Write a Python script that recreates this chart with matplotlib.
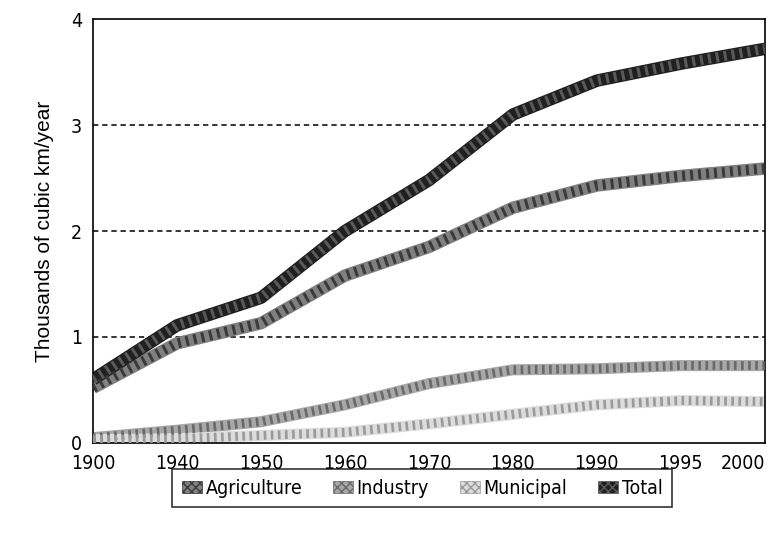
import matplotlib
matplotlib.use("Agg")
import matplotlib.pyplot as plt
from matplotlib.patches import Patch

years = ["1900", "1940", "1950", "1960", "1970", "1980", "1990", "1995", "2000"]
agriculture = [0.52, 0.94, 1.13, 1.58, 1.85, 2.22, 2.43, 2.52, 2.59]
industry = [0.05, 0.12, 0.20, 0.36, 0.56, 0.69, 0.70, 0.73, 0.73]
municipal = [0.03, 0.04, 0.07, 0.10, 0.18, 0.27, 0.36, 0.40, 0.39]
total = [0.60, 1.11, 1.37, 2.00, 2.48, 3.10, 3.42, 3.58, 3.72]

series = [
    ("Agriculture", agriculture, "#808080", "#3a3a3a", 9),
    ("Industry", industry, "#a8a8a8", "#6a6a6a", 8),
    ("Municipal", municipal, "#dcdcdc", "#9a9a9a", 8),
    ("Total", total, "#202020", "#5a5a5a", 9),
]

plt.rcParams['font.family'] = ['DejaVu Sans']
plt.rcParams['font.stretch'] = 'condensed'

fig = plt.figure(figsize=(7.82, 5.33), dpi=100)
ax = fig.add_axes([0.119, 0.169, 0.859, 0.795])

x = list(range(len(years)))
for y in [1, 2, 3]:
    ax.axhline(y, color="black", lw=1.1, ls=(0, (3.5, 2.5)), zorder=1)

handles = []
for name, vals, col, dot, lw in series:
    ax.plot(x, vals, color=col, lw=lw, solid_joinstyle="round", solid_capstyle="butt", zorder=2)
    # stippled texture on top
    ax.plot(x, vals, color=dot, lw=lw * 0.8, ls=(0, (0.3, 0.5)), zorder=3)
    handles.append(Patch(facecolor=col, edgecolor=dot, hatch="xxxx", lw=0.5, label=name))

ax.set_xlim(0, len(years) - 1)
ax.set_ylim(0, 4)
ax.set_xticks(x)
ax.set_xticklabels(years)
ax.set_yticks([0, 1, 2, 3, 4])
ax.tick_params(axis="both", length=0, labelsize=14, pad=8)
ax.get_xticklabels()[-1].set_ha("right")
for s in ax.spines.values():
    s.set_linewidth(1.2)
    s.set_color("black")

ax.set_ylabel("Thousands of cubic km/year", fontsize=15, family=['Liberation Sans', 'DejaVu Sans'],
              fontstretch='normal', labelpad=12)

leg = fig.legend(handles=handles, loc="center", bbox_to_anchor=(0.54, 0.084), ncol=4,
                 fontsize=14, frameon=True, fancybox=False, edgecolor="black",
                 handlelength=1.0, handleheight=0.6, handletextpad=0.2, columnspacing=1.6,
                 borderpad=0.5)
leg.get_frame().set_linewidth(1.2)

fig.savefig("out.png", dpi=100)
